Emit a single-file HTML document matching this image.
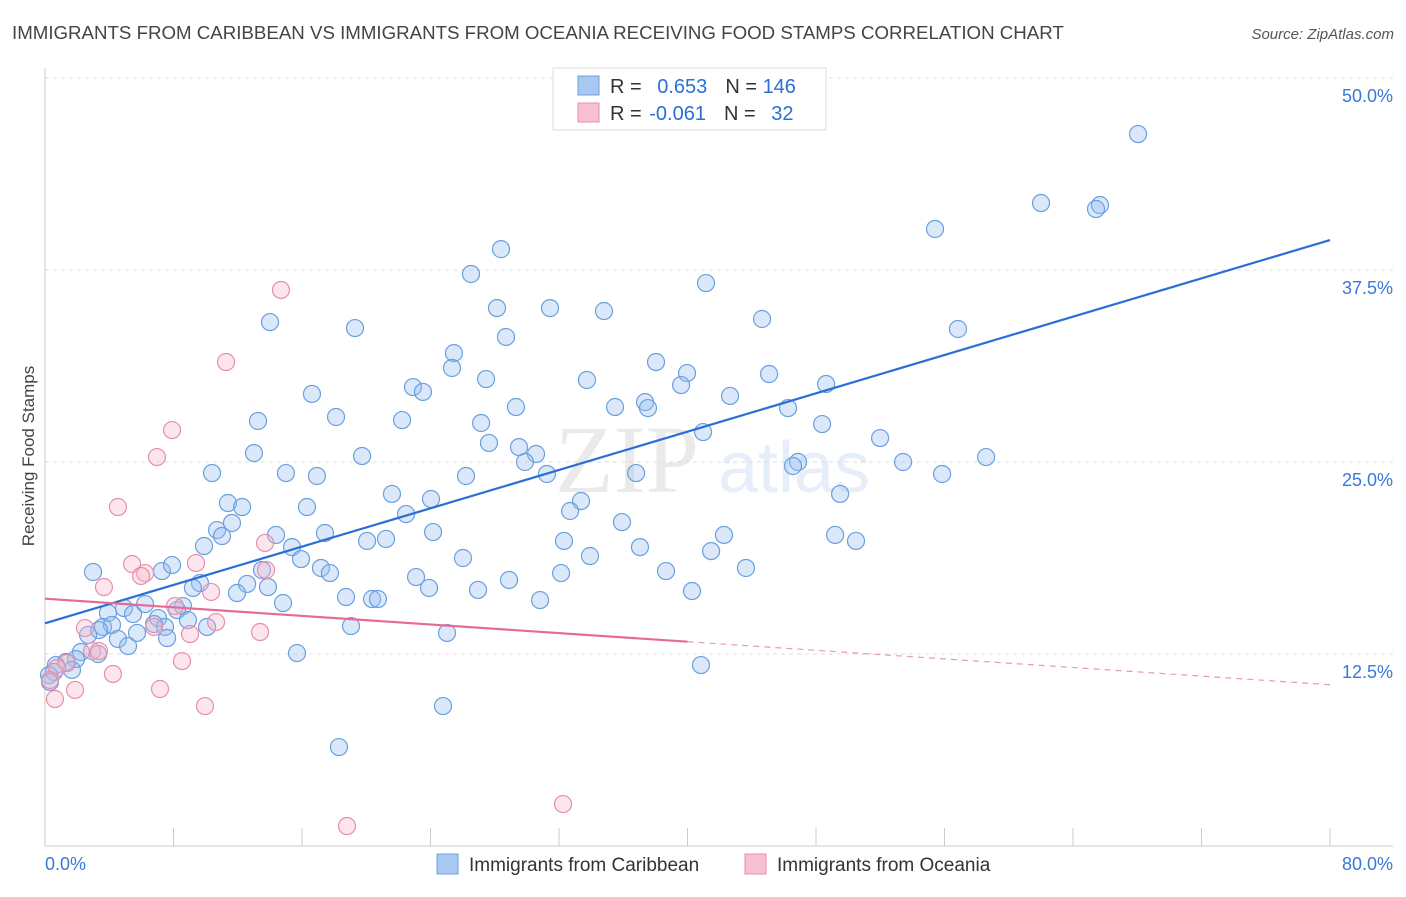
<!DOCTYPE html>
<html><head><meta charset="utf-8"><style>
body{margin:0;background:#fff;font-family:"Liberation Sans",sans-serif;}
</style></head><body>
<svg id="chart" width="1406" height="892" xmlns="http://www.w3.org/2000/svg" style="font-family:'Liberation Sans',sans-serif">
<text x="12" y="39" font-size="18.7" fill="#444">IMMIGRANTS FROM CARIBBEAN VS IMMIGRANTS FROM OCEANIA RECEIVING FOOD STAMPS CORRELATION CHART</text>
<text x="1394" y="39" font-size="15" fill="#555" text-anchor="end" font-style="italic">Source: ZipAtlas.com</text>
<text x="555" y="492" font-size="96" fill="#000" opacity="0.08" font-family="Liberation Serif">ZIP</text>
<text x="718" y="492" font-size="72" fill="#3a78d8" opacity="0.12">atlas</text>
<g id="grid"></g><g id="axes"></g><g id="marks"></g>
<text transform="translate(34,456) rotate(-90)" font-size="17" fill="#444" text-anchor="middle">Receiving Food Stamps</text>
<text x="45" y="870" font-size="18" fill="#3a78d8">0.0%</text>
<text x="1393" y="870" font-size="18" fill="#3a78d8" text-anchor="end">80.0%</text>
<g>
<rect x="553" y="68" width="273" height="62" fill="#fff" stroke="#ddd"/>
<rect x="578" y="76" width="21" height="19" fill="#a8c8f0" stroke="#6a9fe0"/>
<rect x="578" y="103" width="21" height="19" fill="#f8c0d0" stroke="#e890a8"/>
<text x="610" y="93" font-size="20" fill="#333">R = <tspan fill="#2a6fd6" dx="10">0.653</tspan><tspan dx="18" fill="#333">N = </tspan><tspan fill="#2a6fd6">146</tspan></text>
<text x="610" y="120" font-size="20" fill="#333">R = <tspan fill="#2a6fd6" dx="2">-0.061</tspan><tspan dx="18" fill="#333">N = </tspan><tspan fill="#2a6fd6" dx="10">32</tspan></text>
</g>
<g>
<rect x="437" y="854" width="21" height="20" fill="#a8c8f0" stroke="#6a9fe0"/>
<text x="469" y="871" font-size="19" fill="#333">Immigrants from Caribbean</text>
<rect x="745" y="854" width="21" height="20" fill="#f8c0d0" stroke="#e890a8"/>
<text x="777" y="871" font-size="19" fill="#333">Immigrants from Oceania</text>
</g>
</svg>
<script>
const yTicks=[12.5,25,37.5,50];
const yTickLabels=["12.5%","25.0%","37.5%","50.0%"];
const xTicks=[0,8,16,24,32,40,48,56,64,72,80];
const blueX=[68.05,62.01,65.68,65.43,55.41,28.39,26.52,41.15,14.01,19.30,28.14,31.44,34.80,44.64,56.84,28.70,25.46,25.34,38.04,45.08,39.97,27.46,33.74,39.60,48.63,22.91,23.53,16.62,42.65,35.49,37.36,37.54,29.32,46.26,18.12,22.23,13.26,27.15,48.38,40.97,51.99,27.64,29.51,13.01,30.57,19.74,29.88,53.42,58.59,46.88,46.57,36.80,10.40,15.00,16.93,26.21,31.25,55.85,21.60,49.50,11.39,12.27,24.03,33.37,16.31,22.48,32.69,11.64,35.92,10.71,24.16,11.02,14.38,17.43,42.27,49.19,50.49,9.90,20.05,21.23,32.31,15.38,37.04,41.47,26.02,15.94,33.93,2.99,7.28,7.91,17.18,17.74,13.51,23.10,28.89,32.13,38.66,43.64,9.65,9.21,12.58,13.88,23.91,26.96,40.28,11.95,18.74,20.36,20.73,30.82,14.82,6.23,8.59,8.22,4.92,3.92,5.48,7.04,8.90,6.79,7.47,19.05,3.61,4.17,10.09,3.36,5.73,2.68,4.54,7.60,5.17,25.03,15.69,2.24,1.93,3.30,1.31,0.68,1.68,0.56,0.25,40.84,24.78,18.30,0.31];
const blueY=[46.35,41.86,41.73,41.47,40.17,38.86,37.24,36.65,34.11,33.72,35.02,35.02,34.83,34.31,33.66,33.14,32.09,31.12,31.51,30.73,30.79,30.40,30.34,30.01,30.08,29.88,29.56,29.43,29.30,28.58,28.90,28.51,28.58,28.51,27.93,27.73,27.67,27.54,27.47,26.95,26.56,26.24,25.97,25.58,25.52,25.39,25.00,25.00,25.32,25.00,24.74,24.28,24.28,24.28,24.09,24.09,24.22,24.22,22.92,22.92,22.33,22.07,22.59,22.46,22.07,21.61,21.81,21.03,21.09,20.57,20.44,20.18,20.25,20.38,20.25,20.25,19.86,19.53,19.86,19.99,19.86,19.46,19.46,19.20,18.75,18.68,18.88,17.84,17.90,18.29,18.10,17.77,17.97,17.51,17.32,17.77,17.90,18.10,17.12,16.80,17.06,16.86,16.80,16.67,16.60,16.47,16.21,16.08,16.08,16.01,15.82,15.75,15.62,15.36,15.49,15.17,15.10,14.84,14.71,14.45,14.26,14.32,14.26,14.39,14.26,14.06,13.87,13.74,13.48,13.54,13.02,13.87,12.56,12.63,12.17,12.50,11.98,11.78,11.46,11.33,11.13,11.78,9.11,6.44,10.68];
const pinkX=[14.69,11.27,7.91,6.97,4.54,5.42,6.23,5.98,3.67,9.40,13.76,13.70,10.34,8.09,10.65,2.49,6.79,13.39,9.03,2.93,3.36,8.53,1.37,0.75,4.23,7.16,1.87,0.62,9.96,32.25,18.80,0.31];
const pinkY=[36.20,31.51,27.08,25.32,22.07,18.36,17.77,17.58,16.86,18.42,17.97,19.73,16.54,15.62,14.58,14.19,14.26,13.93,13.80,12.69,12.69,12.04,11.91,11.59,11.20,10.22,10.16,9.57,9.11,2.73,1.30,10.81];
const blueTrend=[14.5,39.45];
const pinkTrend=[16.1,10.5];
const pinkSolidEnd=40;

const NS="http://www.w3.org/2000/svg";
const X=v=>45+v/80*1285;
const Y=v=>846-v*15.36;
function mk(tag,attrs,parent){const e=document.createElementNS(NS,tag);for(const k in attrs)e.setAttribute(k,attrs[k]);document.getElementById(parent).appendChild(e);return e;}
yTicks.forEach((t,i)=>{
  const g=mk('line',{x1:45,x2:1393,y1:Y(t),y2:Y(t),stroke:'#ddd','stroke-dasharray':'4,4'},'grid');
  
  
  const l=mk('text',{x:1393,y:Y(t)+24,'font-size':18,fill:'#3a78d8','text-anchor':'end'},'grid');
  l.textContent=yTickLabels[i];
  
  
});
const ax=mk('line',{x1:45,x2:45,y1:68,y2:846,stroke:'#ccc'},'axes');


const bx=mk('line',{x1:45,x2:1393,y1:846,y2:846,stroke:'#ccc'},'axes');


xTicks.forEach(t=>{
  const k=mk('line',{x1:X(t),x2:X(t),y1:828,y2:846,stroke:'#ccc'},'axes');
  
  
});
blueX.forEach((v,i)=>{
  const c=mk('circle',{cx:X(v),cy:Y(blueY[i]),r:8.5,fill:'rgba(150,190,240,0.35)',stroke:'#6a9fe0','stroke-width':1.2},'marks');
  
  
});
pinkX.forEach((v,i)=>{
  const c=mk('circle',{cx:X(v),cy:Y(pinkY[i]),r:8.5,fill:'rgba(245,180,200,0.35)',stroke:'#e890a8','stroke-width':1.2},'marks');
  
  
});
const bl=mk('line',{x1:X(0),y1:Y(blueTrend[0]),x2:X(80),y2:Y(blueTrend[1]),stroke:'#2a6fd6','stroke-width':2.2},'marks');


const pm=pinkTrend[0]+(pinkTrend[1]-pinkTrend[0])*pinkSolidEnd/80;
const pl=mk('line',{x1:X(0),y1:Y(pinkTrend[0]),x2:X(pinkSolidEnd),y2:Y(pm),stroke:'#e86a94','stroke-width':2.2},'marks');


const pd=mk('line',{x1:X(pinkSolidEnd),y1:Y(pm),x2:X(80),y2:Y(pinkTrend[1]),stroke:'#e89ab4','stroke-width':1.2,'stroke-dasharray':'6,5'},'marks');


</script>
</body></html>
